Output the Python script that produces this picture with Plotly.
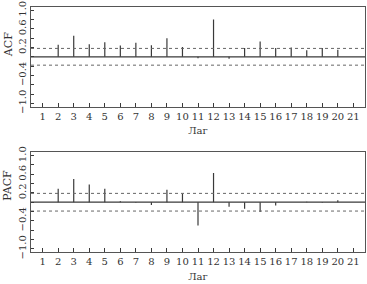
import plotly.graph_objects as go

lags = list(range(1, 22))
acf = [0.0, 0.26, 0.45, 0.27, 0.31, 0.24, 0.30, 0.25, 0.40, 0.21, -0.03, 0.80,
       -0.04, 0.19, 0.33, 0.19, 0.20, 0.14, 0.19, 0.15, 0.0]
pacf = [0.0, 0.29, 0.50, 0.38, 0.29, 0.02, -0.01, -0.06, 0.27, 0.18, -0.50, 0.63,
        -0.10, -0.14, -0.21, -0.07, 0.0, 0.01, -0.01, 0.04, 0.0]
conf_acf = 0.18
conf_pacf = 0.19
ytick_vals = [-1.0, -0.8, -0.6, -0.4, -0.2, 0.0, 0.2, 0.4, 0.6, 0.8, 1.0]
ytick_text = ["−1.0", "", "", "−0.4", "", "", "0.2", "", "0.6", "", "1.0"]
xlabel = "Лаг"
ytitles = ["ACF", "PACF"]

LINE = "#3a3a3a"
FONT = dict(family="DejaVu Serif, Liberation Serif, serif", size=10, color="#333")

fig = go.Figure()


def stems(vals):
    xs, ys = [], []
    for l, v in zip(lags, vals):
        xs += [l, l, None]
        ys += [0, v, None]
    return xs, ys


for i, (vals, conf) in enumerate([(acf, conf_acf), (pacf, conf_pacf)]):
    xa = "x" if i == 0 else "x2"
    ya = "y" if i == 0 else "y2"
    xs, ys = stems(vals)
    fig.add_trace(go.Scatter(x=xs, y=ys, mode="lines", line=dict(color=LINE, width=1.2),
                             xaxis=xa, yaxis=ya, showlegend=False, hoverinfo="skip"))
    fig.add_trace(go.Scatter(x=[0.25, 21.75], y=[0, 0], mode="lines",
                             line=dict(color=LINE, width=1.2), xaxis=xa, yaxis=ya,
                             showlegend=False, hoverinfo="skip"))
    for c in (conf, -conf):
        fig.add_trace(go.Scatter(x=[0.25, 21.75], y=[c, c], mode="lines",
                                 line=dict(color="#666", width=1, dash="dot"),
                                 xaxis=xa, yaxis=ya, showlegend=False, hoverinfo="skip"))

xaxis_common = dict(range=[0.25, 21.75], tickvals=lags, ticktext=[str(l) for l in lags],
                    ticks="inside", ticklen=4, tickcolor=LINE, showline=True, linecolor="#555",
                    linewidth=1, mirror=True, showgrid=False, zeroline=False,
                    tickfont=FONT, title=dict(text=xlabel, font=FONT, standoff=6))
yaxis_common = dict(range=[-1.07, 1.07], tickvals=ytick_vals, ticktext=ytick_text,
                    ticks="inside", ticklen=3, tickcolor=LINE, showline=True, linecolor="#555",
                    linewidth=1, mirror=True, showgrid=False, zeroline=False,
                    tickangle=-90, tickfont=FONT)

H = 251
fig.update_layout(
    width=367, height=284,
    margin=dict(l=31, r=1, t=1, b=32),
    paper_bgcolor="white", plot_bgcolor="white",
    font=FONT,
    xaxis=dict(domain=[0, 1], anchor="y", **xaxis_common),
    yaxis=dict(domain=[1 - 102 / H, 1], anchor="x", **yaxis_common),
    xaxis2=dict(domain=[0, 1], anchor="y2", **xaxis_common),
    yaxis2=dict(domain=[0, 1 - 149 / H], anchor="x2", **yaxis_common),
)

for txt, py in zip(ytitles, [40, 184]):
    fig.add_annotation(text=txt, xref="paper", yref="paper",
                       x=(8 - 31) / 335, y=1 - (py - 1) / H,
                       xanchor="center", yanchor="middle",
                       showarrow=False, textangle=-90,
                       font=dict(family=FONT["family"], size=11, color="#333"))

fig.write_html("out.html")
